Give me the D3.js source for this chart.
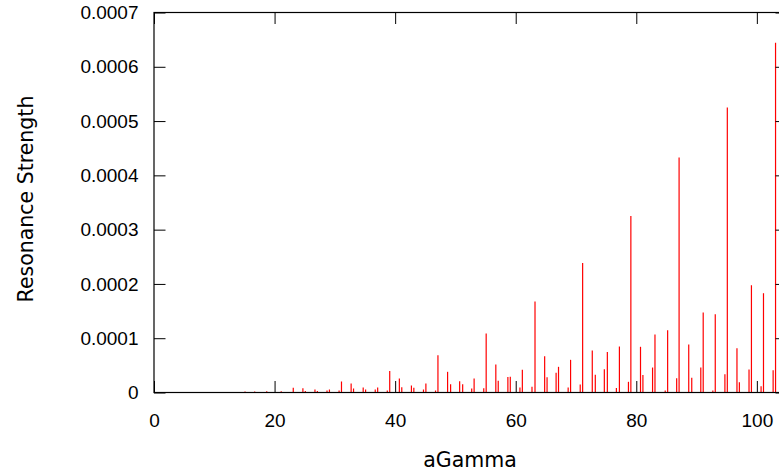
<!DOCTYPE html>
<html>
<head>
<meta charset="utf-8">
<script src="https://cdn.jsdelivr.net/npm/d3@7"></script>
<style>
  body { margin: 0; background: #fff; }
  svg { display: block; font-family: "DejaVu Sans", sans-serif; }
  .tick text { font-size: 19px; fill: #000; }
  .axis-label { font-size: 20.5px; fill: #000; }
  .bar { stroke: #ff0000; stroke-width: 1.2; }
</style>
</head>
<body>
<div id="chart"></div>
<script>
// resonance positions
var aGamma = [
  7.1, 8.7, 10.7, 12.7, 15.1, 16.7, 18.7, 21.1, 23.1, 24.7,
  25.1, 26.7, 27.1, 28.7, 29.1, 30.7, 31.1, 32.7, 33.1, 34.7,
  35.1, 36.7, 37.1, 38.7, 39.1, 40.7, 41.1, 42.7, 43.1, 44.7,
  45.1, 46.7, 47.1, 48.7, 49.2, 50.7, 51.2, 52.7, 53.1, 54.7,
  55.1, 56.7, 57.1, 58.7, 59.1, 60.7, 61.1, 62.7, 63.2, 64.8,
  65.2, 66.7, 67.1, 68.7, 69.1, 70.7, 71.1, 72.7, 73.2, 74.7,
  75.2, 76.7, 77.2, 78.7, 79.1, 80.7, 81.1, 82.7, 83.1, 84.8,
  85.2, 86.7, 87.1, 88.7, 89.2, 90.7, 91.1, 92.7, 93.1, 94.7,
  95.1, 96.7, 97.1, 98.7, 99.1, 100.7, 101.1, 102.7, 103.1
];

// strengths in units of 1e-6
var strength = [
  0.9, 0.9, 0.9, 0.9, 1.8, 1.8, 2.4, 2.4, 8.7, 7.9,
  2.8, 5.5, 2.8, 3.7, 5.5, 3.7, 20.3, 16.6, 7.4, 9.2,
  5.5, 5.5, 9.2, 3.7, 39.6, 25.8, 9.8, 12.9, 8.7, 5.5,
  16.6, 3.7, 68.7, 38.1, 15.3, 20.8, 15.3, 7.4, 25.8, 7.9,
  108.7, 51.6, 21.5, 28.5, 28.9, 9.2, 41.8, 10.5, 167.6, 66.8,
  28.2, 36.3, 47.3, 9.2, 60.2, 14.7, 238.5, 77.3, 32.6, 42.9,
  74.6, 8.3, 84.7, 19.7, 325.0, 84.2, 32.2, 46.0, 106.8, 3.7,
  114.7, 26.3, 432.8, 88.4, 27.1, 46.0, 147.3, 3.7, 144.2, 33.7,
  524.9, 81.6, 19.0, 42.4, 197.6, 11.6, 182.9, 41.1, 644.2
];

var xTicks = [0, 20, 40, 60, 80, 100];
var yTicks = [0, 0.0001, 0.0002, 0.0003, 0.0004, 0.0005, 0.0006, 0.0007];

var margin = { top: 12.5, right: -8, bottom: 80.5, left: 154 },
  width = 779 - margin.left - margin.right,
  height = 473 - margin.top - margin.bottom;

var data = aGamma.map(function(a, i) {
  return { a: a, s: strength[i] * 1e-6 };
});

var x = d3.scaleLinear().domain([0, 105]).range([0, width]);
var y = d3.scaleLinear().domain([0, 0.0007]).range([height, 0]);

var svg = d3.select("#chart").append("svg")
  .attr("width", 779)
  .attr("height", 473);

var g = svg.append("g")
  .attr("transform", "translate(" + margin.left + "," + margin.top + ")");

// bars
g.selectAll(".bar")
  .data(data)
  .enter().append("line")
  .attr("class", "bar")
  .attr("x1", function(d) { return x(d.a); })
  .attr("x2", function(d) { return x(d.a); })
  .attr("y1", y(0))
  .attr("y2", function(d) { return y(d.s); });

var tickLen = -11.5;

var yFormat = function(d) { return d === 0 ? "0" : d.toFixed(4); };

g.append("g")
  .call(d3.axisLeft(y).tickValues(yTicks).tickFormat(yFormat)
    .tickSizeInner(tickLen).tickSizeOuter(0).tickPadding(15.5));

g.append("g")
  .attr("transform", "translate(" + width + ",0)")
  .call(d3.axisRight(y).tickValues(yTicks).tickFormat("")
    .tickSizeInner(tickLen).tickSizeOuter(0));

g.append("g")
  .attr("transform", "translate(0," + height + ")")
  .call(d3.axisBottom(x).tickValues(xTicks)
    .tickSizeInner(tickLen).tickSizeOuter(0).tickPadding(21));

g.append("g")
  .call(d3.axisTop(x).tickValues(xTicks).tickFormat("")
    .tickSizeInner(tickLen).tickSizeOuter(0));

g.selectAll(".domain").remove();
g.selectAll(".tick line").attr("stroke", "#000");

// border
g.append("rect")
  .attr("width", width)
  .attr("height", height)
  .attr("fill", "none")
  .attr("stroke", "#000")
  .attr("stroke-width", 1.2);

svg.append("text")
  .attr("class", "axis-label")
  .attr("text-anchor", "middle")
  .attr("x", 470)
  .attr("y", 466.5)
  .text("aGamma");

svg.append("text")
  .attr("class", "axis-label")
  .attr("text-anchor", "middle")
  .attr("transform", "translate(33,199) rotate(-90)")
  .text("Resonance Strength");
</script>
</body>
</html>
